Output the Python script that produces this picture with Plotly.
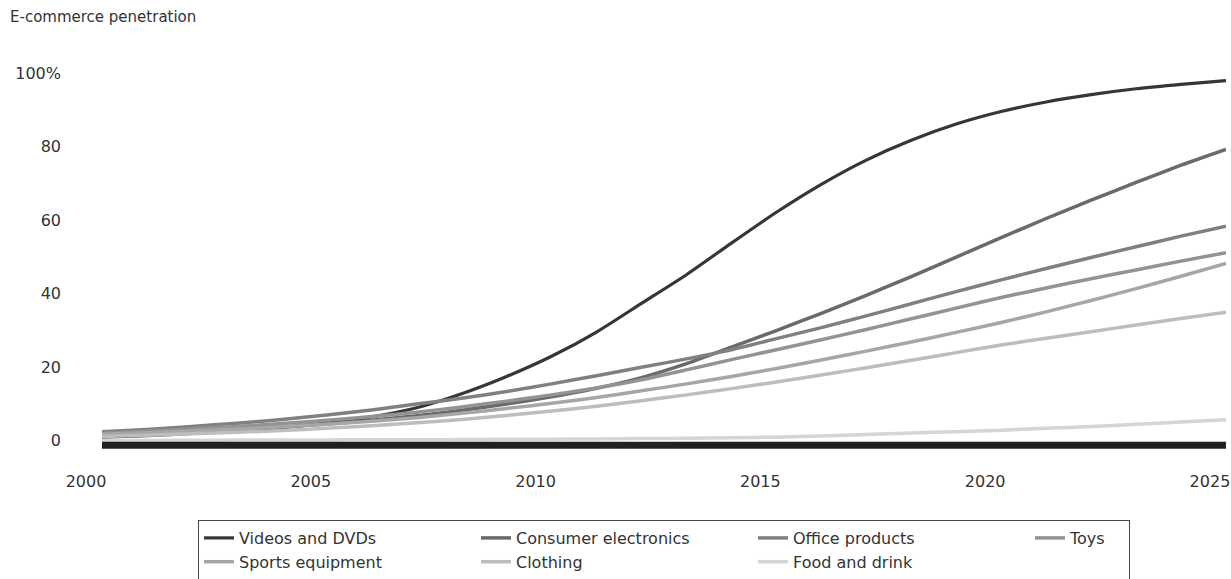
import plotly.graph_objects as go

years = list(range(2000, 2026))

videos_dvds = [1.0, 1.4, 2.0, 2.7, 3.6, 4.8, 6.5, 9.0, 12.8, 17.5, 23.0, 29.6, 37.4, 45.2, 53.8,
               62.2, 69.8, 76.4, 81.8, 86.2, 89.6, 92.2, 94.2, 95.8, 97.0, 98.0]
consumer_electronics = [1.5, 2.0, 2.5, 3.1, 3.8, 4.6, 5.6, 6.8, 8.3, 10.0, 12.0, 14.3, 17.2, 21.0, 25.5,
                        30.0, 34.7, 39.6, 44.7, 50.0, 55.3, 60.5, 65.5, 70.3, 75.0, 79.3]
office_products = [2.5, 3.1, 3.9, 4.8, 5.8, 7.0, 8.4, 10.0, 11.6, 13.4, 15.5, 17.7, 20.0, 22.3, 24.8,
                   27.8, 30.8, 34.0, 37.3, 40.6, 43.8, 46.9, 49.9, 52.8, 55.7, 58.4]
toys = [2.0, 2.6, 3.2, 3.9, 4.7, 5.6, 6.6, 7.8, 9.2, 10.8, 12.5, 14.4, 16.6, 19.3, 22.1,
        24.8, 27.5, 30.3, 33.2, 36.1, 39.0, 41.6, 44.1, 46.5, 48.9, 51.2]
sports_equipment = [1.8, 2.2, 2.7, 3.2, 3.8, 4.5, 5.3, 6.3, 7.5, 8.8, 10.2, 11.8, 13.6, 15.5, 17.5,
                    19.7, 22.0, 24.4, 26.9, 29.5, 32.2, 35.1, 38.2, 41.4, 44.8, 48.3]
clothing = [1.2, 1.5, 1.9, 2.3, 2.8, 3.4, 4.1, 4.9, 5.8, 6.9, 8.1, 9.4, 10.9, 12.5, 14.2,
            16.0, 17.9, 19.9, 21.9, 24.0, 26.1, 27.9, 29.7, 31.5, 33.3, 35.0]
food_and_drink = [0.1, 0.1, 0.15, 0.2, 0.2, 0.25, 0.3, 0.3, 0.35, 0.4, 0.45, 0.5, 0.6, 0.7, 0.85,
                  1.0, 1.3, 1.7, 2.1, 2.5, 2.9, 3.4, 3.9, 4.5, 5.1, 5.7]

series_names = ["Videos and DVDs", "Consumer electronics", "Office products", "Toys",
                "Sports equipment", "Clothing", "Food and drink"]
series_values = [videos_dvds, consumer_electronics, office_products, toys,
                 sports_equipment, clothing, food_and_drink]
colors = ["#363636", "#6a6a6a", "#808080", "#939393", "#a6a6a6", "#bdbdbd", "#d5d5d5"]
widths = [3.2, 3.5, 3.5, 3.5, 3.5, 3.5, 3.5]
legend_widths = [232, 232, 232, 54, 232, 232, 232]

x_tick_vals = [2000, 2005, 2010, 2015, 2020, 2025]
x_tick_text = ["2000", "2005", "2010", "2015", "2020", "2025"]
y_tick_vals = [0, 20, 40, 60, 80, 100]
y_tick_text = ["0", "20", "40", "60", "80", "100%"]

FONT = "DejaVu Sans"
TXT = "#333333"

fig = go.Figure()
for name, vals, col, w, lw in zip(series_names, series_values, colors, widths, legend_widths):
    fig.add_trace(go.Scatter(
        x=years, y=vals, name=name, mode="lines",
        line=dict(color=col, width=w, shape="spline", smoothing=0.6),
        legendwidth=lw,
    ))

# baseline (thick black axis line just below zero)
fig.add_shape(type="line", xref="x", yref="y", x0=years[0], x1=years[-1], y0=-1.2, y1=-1.2,
              line=dict(color="#231f20", width=7), layer="above")

fig.update_layout(
    width=1231, height=579,
    margin=dict(l=102, r=5, t=66, b=129, autoexpand=False),
    paper_bgcolor="white", plot_bgcolor="white",
    font=dict(family=FONT, color=TXT, size=15),
    title=dict(text="E-commerce penetration", x=10/1231, xref="container", xanchor="left",
               y=1 - 17/579, yref="container", yanchor="middle",
               font=dict(family=FONT, size=15, color=TXT)),
    showlegend=True,
    legend=dict(orientation="h", x=(198 - 102) / 1124, xanchor="left",
                yref="container", y=1 - 520 / 579, yanchor="top",
                bordercolor="#444444", borderwidth=1, bgcolor="white",
                font=dict(family=FONT, size=16, color=TXT), itemwidth=30),
    xaxis=dict(range=[2000, 2025.001], tickvals=x_tick_vals, ticktext=x_tick_text,
               showgrid=False, zeroline=False, showline=False, ticks="",
               tickfont=dict(size=16, color=TXT), ticklabelstandoff=20,
               ticklabelshift=-16, ticklabeloverflow="allow", automargin=False),
    yaxis=dict(range=[-2.5, 102], tickvals=y_tick_vals, ticktext=y_tick_text,
               showgrid=False, zeroline=False, showline=False, ticks="",
               tickfont=dict(size=16, color=TXT), ticklabelstandoff=40, automargin=False),
)

fig.write_html("out.html")
